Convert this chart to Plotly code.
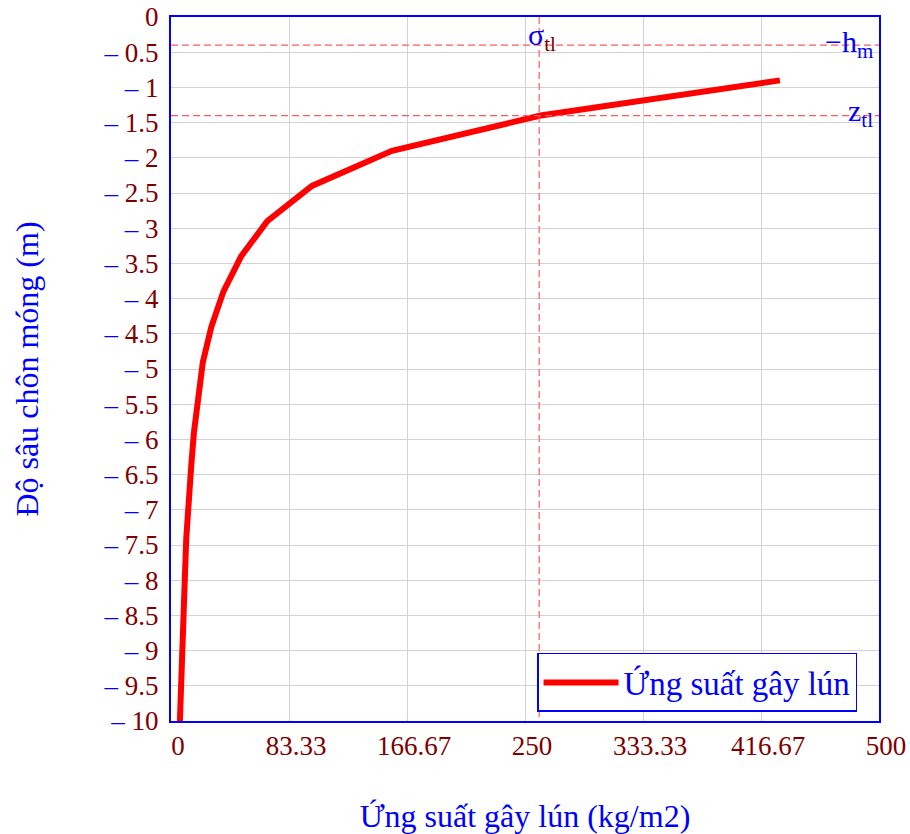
import plotly.graph_objects as go

# data
depth = [-0.9, -1.4, -1.9, -2.4, -2.9, -3.4, -3.9, -4.4, -4.9, -5.4, -5.9, -6.4, -6.9,
         -7.4, -7.9, -8.4, -8.9, -9.4, -9.9, -10.4]
stress = [430, 261, 156, 99.5, 68, 49.5, 37, 28.5, 22.5, 19.3, 16.2, 14.2, 12.4,
          10.8, 9.9, 8.9, 7.9, 7.1, 6.2, 5.6]
hm = 0.4
z_tl = 1.4
sigma_tl = 260

x_tickvals = [0, 83.33, 166.67, 250, 333.33, 416.67, 500]
x_ticktext = ["0", "83.33", "166.67", "250", "333.33", "416.67", "500"]
y_tickvals = [-0.5 * i for i in range(21)]
y_ticktext = ["0"] + ["<span style='color:blue'>\u2013</span> " + ("%g" % (0.5 * i)) for i in range(1, 21)]

FONT = "Liberation Serif"
MAROON = "#800000"
DASH = "#ff5a5a"

fig = go.Figure()
fig.add_trace(go.Scatter(x=stress, y=depth, mode="lines",
                         line=dict(color="red", width=6),
                         name="Ứng suất gây lún"))
# reference lines
fig.add_trace(go.Scatter(x=[0, 500], y=[-hm, -hm], mode="lines",
                         line=dict(color=DASH, width=1.2, dash="7px,4px"),
                         showlegend=False, hoverinfo="skip"))
fig.add_trace(go.Scatter(x=[0, 500], y=[-z_tl, -z_tl], mode="lines",
                         line=dict(color=DASH, width=1.2, dash="7px,4px"),
                         showlegend=False, hoverinfo="skip"))
fig.add_trace(go.Scatter(x=[sigma_tl, sigma_tl], y=[0, -10], mode="lines",
                         line=dict(color=DASH, width=1.2, dash="7px,4px"),
                         showlegend=False, hoverinfo="skip"))

fig.add_annotation(x=sigma_tl, xref="x", y=1, yref="paper", xanchor="left", yanchor="top",
                   xshift=-13, yshift=1, showarrow=False,
                   text="σ<sub><span style='color:#800000'>tl</span></sub>",
                   font=dict(family=FONT, size=30, color="blue"))
fig.add_annotation(x=1, xref="paper", y=-hm, yref="y", xanchor="right", yanchor="middle",
                   xshift=-4, yshift=1, showarrow=False,
                   text="\u2212h<sub>m</sub>",
                   font=dict(family=FONT, size=30, color="blue"))
fig.add_annotation(x=1, xref="paper", y=-z_tl, yref="y", xanchor="right", yanchor="middle",
                   xshift=-4, yshift=3, showarrow=False,
                   text="z<sub>tl</sub>",
                   font=dict(family=FONT, size=30, color="blue"))

fig.update_layout(
    width=910, height=834,
    margin=dict(l=171, r=31, t=17, b=113),
    paper_bgcolor="white", plot_bgcolor="white",
    font=dict(family=FONT, size=27, color=MAROON),
    showlegend=True,
    legend=dict(x=0.517, y=0.0547, xanchor="left", yanchor="middle",
                bgcolor="white", bordercolor="blue", borderwidth=1.5,
                itemwidth=75,
                font=dict(family=FONT, size=33, color="blue")),
)
fig.update_xaxes(range=[0, 500], tickvals=x_tickvals, ticktext=x_ticktext,
                 showgrid=True, gridcolor="#d3d3d3", gridwidth=1,
                 showline=True, linecolor="blue", linewidth=2, mirror=True,
                 zeroline=False, ticks="", ticklabelshift=7, automargin=False,
                 ticklabeloverflow="allow",
                 tickfont=dict(family=FONT, size=27, color=MAROON),
                 title=dict(text="Ứng suất gây lún (kg/m2)", standoff=47,
                            font=dict(family=FONT, size=32, color="blue")))
fig.update_yaxes(range=[-10, 0], tickvals=y_tickvals, ticktext=y_ticktext,
                 showgrid=True, gridcolor="#d3d3d3", gridwidth=1,
                 showline=True, linecolor="blue", linewidth=2, mirror=True,
                 zeroline=False, ticks="", ticklabelstandoff=5, automargin=False,
                 ticklabeloverflow="allow",
                 tickfont=dict(family=FONT, size=27, color=MAROON),
                 title=dict(text="Độ sâu chôn móng (m)", standoff=55,
                            font=dict(family=FONT, size=32, color="blue")))

fig.write_html("out.html", config={"displayModeBar": False},
               post_script="document.body.style.margin='0';")
